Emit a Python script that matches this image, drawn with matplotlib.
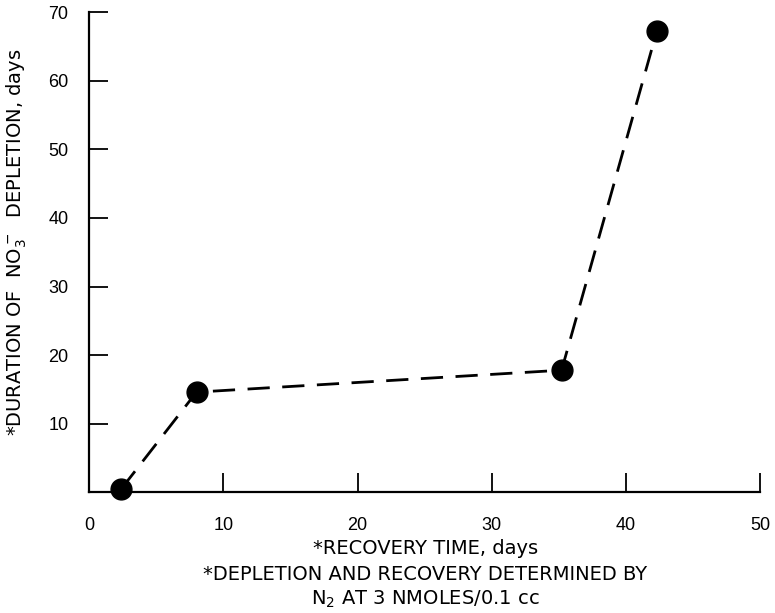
import matplotlib
matplotlib.use("Agg")
import matplotlib.pyplot as plt

plt.rcParams['font.family'] = ['Liberation Sans', 'DejaVu Sans']
plt.rcParams['mathtext.fontset'] = 'custom'
plt.rcParams['mathtext.rm'] = 'DejaVu Sans'
plt.rcParams['mathtext.default'] = 'regular'

# Recovery time vs. duration of NO3- depletion
recovery_days = [2.4, 8.0, 35.2, 42.3]
depletion_days = [0.5, 14.6, 17.8, 67.3]

x_ticks = [0, 10, 20, 30, 40, 50]
y_ticks = [10, 20, 30, 40, 50, 60, 70]

label_font = dict(family='DejaVu Sans', fontsize=14)

fig = plt.figure(figsize=(7.75, 6.13), dpi=100)
ax = fig.add_axes([0.115, 0.197, 0.866, 0.783])

ax.plot(recovery_days, depletion_days, color='black', linewidth=2.0,
        linestyle=(0, (8, 4.5)), marker='o', markersize=15,
        markerfacecolor='black', markeredgecolor='black', clip_on=False)

ax.set_xlim(0, 50)
ax.set_ylim(0, 70)
ax.set_xticks(x_ticks)
ax.set_yticks(y_ticks)
ax.set_xticklabels([str(v) for v in x_ticks])
ax.set_yticklabels([str(v) for v in y_ticks])

for side in ('top', 'right'):
    ax.spines[side].set_visible(False)
for side in ('left', 'bottom'):
    ax.spines[side].set_linewidth(1.6)

ax.tick_params(axis='both', direction='in', length=14, width=1.3,
               labelsize=13, colors='black')
ax.tick_params(axis='y', pad=15)
ax.tick_params(axis='x', pad=18)
# the spine corner stands in for the tick at x = 0
ax.xaxis.get_major_ticks()[0].tick1line.set_visible(False)

# vertical axis title
fig.text(0.022, 0.605, r"*DURATION OF  NO$_3^-$  DEPLETION, days",
         rotation=90, ha='center', va='center', **label_font)

fig.text(0.549, 0.106, "*RECOVERY TIME, days", ha='center', va='center',
         **label_font)
fig.text(0.549, 0.062, "*DEPLETION AND RECOVERY DETERMINED BY",
         ha='center', va='center', **label_font)
fig.text(0.549, 0.022, r"N$_2$ AT 3 NMOLES/0.1 cc", ha='center',
         va='center', **label_font)

fig.savefig("out.png", dpi=100)
